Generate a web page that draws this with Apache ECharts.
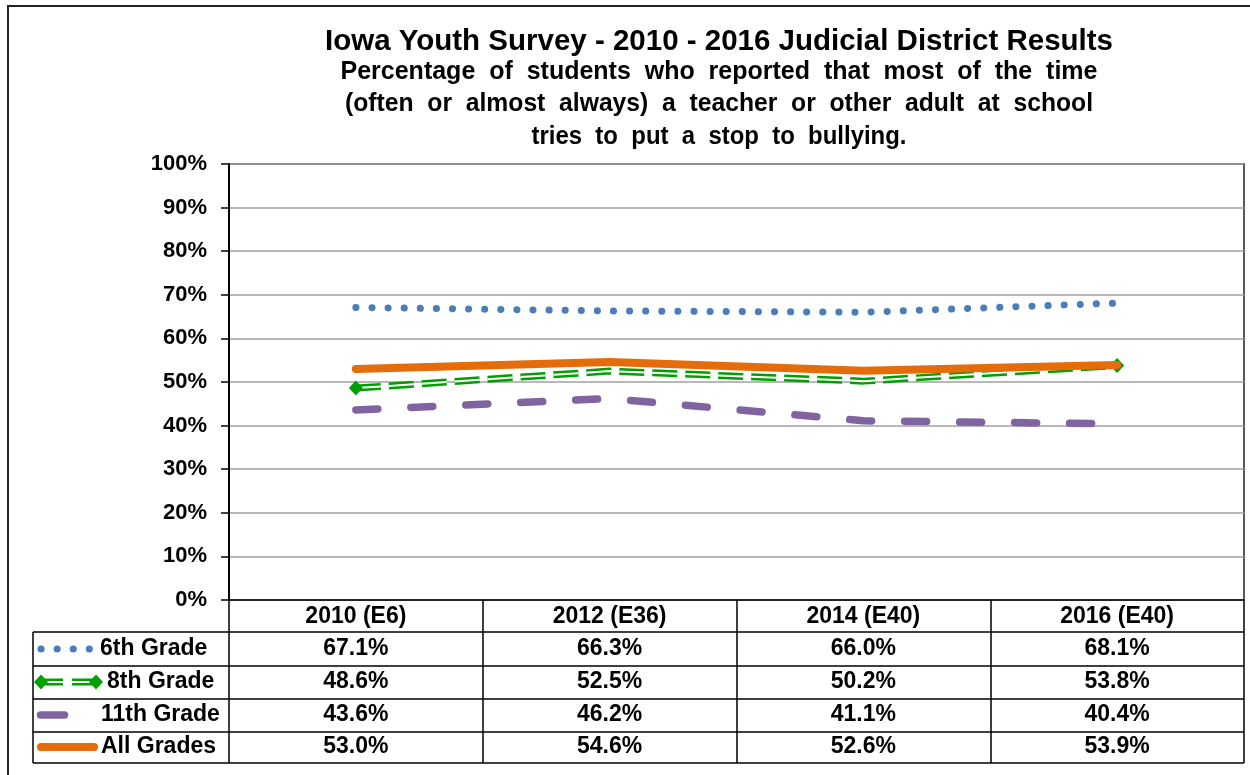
<!DOCTYPE html>
<html><head><meta charset="utf-8">
<script src="https://cdn.jsdelivr.net/npm/echarts@6/dist/echarts.min.js"></script>
<style>html,body{margin:0;padding:0;background:#fff}#c{width:1250px;height:775px}</style>
</head><body><div id="c"></div>
<script>
// ---- data ----
const categories = ['2010 (E6)', '2012 (E36)', '2014 (E40)', '2016 (E40)'];
const grade6 = [67.1, 66.3, 66.0, 68.1];
const grade8 = [48.6, 52.5, 50.2, 53.8];
const grade11 = [43.6, 46.2, 41.1, 40.4];
const allGrades = [53.0, 54.6, 52.6, 53.9];
const seriesNames = ['6th Grade', '8th Grade', '11th Grade', 'All Grades'];
const titleLines = [
  'Iowa Youth Survey - 2010 - 2016 Judicial District Results',
  'Percentage  of  students  who  reported  that  most  of  the  time',
  '(often  or  almost  always)  a  teacher  or  other  adult  at  school',
  'tries  to  put  a  stop  to  bullying.'
];

// ---- styling / layout ----
const FONT = '"Liberation Sans", Arial, sans-serif';
const BLUE = '#4A7EBB', GREEN = '#00A000', PURPLE = '#8064A2', ORANGE = '#E46C0A';
const last = categories.length - 1;
const dotted = [0.1, 16], dashed8 = [25, 8], dashed11 = [22, 33];

const chart = echarts.init(document.getElementById('c'), null, { renderer: 'canvas' });

const option = {
  animation: false,
  backgroundColor: '#fff',
  grid: { left: 229, top: 164, right: 6, bottom: 175, show: true, borderColor: '#222', borderWidth: 1.5 },
  xAxis: {
    type: 'category', data: categories, boundaryGap: true,
    axisLine: { lineStyle: { color: '#000', width: 1.5 } },
    axisTick: { show: true, interval: 0, length: 163, lineStyle: { color: '#000', width: 1.5 } },
    axisLabel: { interval: 0, margin: 5, color: '#000', fontWeight: 'bold', fontSize: 23, lineHeight: 23, fontFamily: FONT }
  },
  yAxis: {
    type: 'value', min: 0, max: 100, interval: 10,
    axisLine: { show: true, lineStyle: { color: '#000', width: 2 } },
    axisTick: { show: true, length: 8, lineStyle: { color: '#000', width: 1.5 } },
    axisLabel: { formatter: '{value}%', margin: 22, color: '#000', fontWeight: 'bold', fontSize: 22, fontFamily: FONT },
    splitLine: { lineStyle: { color: '#a0a0a0', width: 1.5 } }
  },
  series: [
    { name: seriesNames[0], type: 'line', data: grade6, symbol: 'none', z: 2,
      lineStyle: { color: BLUE, width: 7, type: dotted, cap: 'round' } },
    { name: seriesNames[1], type: 'line', data: grade8, symbol: 'none', z: 2,
      lineStyle: { color: GREEN, width: 7, type: dashed8 } },
    { name: seriesNames[1] + ' (inner)', type: 'line', data: grade8, z: 2,
      symbol: (v, p) => (p.dataIndex === 0 || p.dataIndex === last) ? 'diamond' : 'none',
      symbolSize: [14, 15], showAllSymbol: true, itemStyle: { color: GREEN },
      lineStyle: { color: '#fff', width: 2, type: dashed8 } },
    { name: seriesNames[2], type: 'line', data: grade11, symbol: 'none', z: 3,
      lineStyle: { color: PURPLE, width: 7.5, type: dashed11, cap: 'round' } },
    { name: seriesNames[3], type: 'line', data: allGrades, symbol: 'none', z: 4,
      lineStyle: { color: ORANGE, width: 8, cap: 'round', join: 'round' } }
  ]
};
chart.setOption(option);

// ---- table + title as graphic overlay ----
const ctx = document.createElement('canvas').getContext('2d');
function measure(text, font) { ctx.font = font; return ctx.measureText(text).width; }

const plotRight = 1244, tableLeft = 33;
const rowLines = [632, 666, 699, 732, 763];
const rowCenters = [649, 682, 715, 747];
const legendTextX = [100, 107, 101, 101];
const colX = categories.map((c, i) => chart.convertToPixel({ xAxisIndex: 0 }, i));
const rows = [grade6, grade8, grade11, allGrades];
const TFONT = 'bold 23px ' + FONT;

const g = [];
g.push({ type: 'rect', silent: true, shape: { x: 8, y: 6, width: 1300, height: 800 },
  style: { fill: 'none', stroke: '#222', lineWidth: 2 } });
rowLines.forEach(y => g.push({ type: 'line', silent: true, shape: { x1: tableLeft, y1: y, x2: plotRight, y2: y },
  style: { stroke: '#000', lineWidth: 1.5 } }));
g.push({ type: 'line', silent: true, shape: { x1: tableLeft, y1: rowLines[0], x2: tableLeft, y2: rowLines[rowLines.length - 1] },
  style: { stroke: '#000', lineWidth: 1.5 } });

rows.forEach((arr, r) => {
  arr.forEach((v, i) => g.push({ type: 'text', silent: true, x: colX[i], y: rowCenters[r],
    style: { text: v.toFixed(1) + '%', font: TFONT, fill: '#000', align: 'center', verticalAlign: 'middle' } }));
  g.push({ type: 'text', silent: true, x: legendTextX[r], y: rowCenters[r],
    style: { text: seriesNames[r], font: TFONT, fill: '#000', align: 'left', verticalAlign: 'middle' } });
});

// legend samples
let y = rowCenters[0];
g.push({ type: 'line', silent: true, shape: { x1: 41, y1: y, x2: 89.5, y2: y },
  style: { stroke: BLUE, lineWidth: 7, lineDash: dotted, lineCap: 'round' } });
y = rowCenters[1];
[[44, 63], [72, 93]].forEach(([a, b]) => {
  g.push({ type: 'line', silent: true, shape: { x1: a, y1: y, x2: b, y2: y }, style: { stroke: GREEN, lineWidth: 7 } });
  g.push({ type: 'line', silent: true, shape: { x1: a, y1: y, x2: b, y2: y }, style: { stroke: '#fff', lineWidth: 2 } });
});
[41, 96].forEach(x => g.push({ type: 'polygon', silent: true,
  shape: { points: [[x - 7, y], [x, y - 7.5], [x + 7, y], [x, y + 7.5]] }, style: { fill: GREEN } }));
y = rowCenters[2];
g.push({ type: 'line', silent: true, shape: { x1: 40.5, y1: y, x2: 64.5, y2: y },
  style: { stroke: PURPLE, lineWidth: 7.5, lineCap: 'round' } });
y = rowCenters[3];
g.push({ type: 'line', silent: true, shape: { x1: 41, y1: y, x2: 94, y2: y },
  style: { stroke: ORANGE, lineWidth: 8, lineCap: 'round' } });

// title (narrow bold, scaled horizontally)
const titleY = [42, 72, 104, 137];
const titleSize = [30, 26, 26, 26];
const titleWidth = [788, 757, 748, 375];
titleLines.forEach((t, i) => {
  const f = 'bold ' + titleSize[i] + 'px ' + FONT;
  const w = measure(t, f);
  g.push({ type: 'text', silent: true, x: 719, y: titleY[i], scaleX: titleWidth[i] / w,
    style: { text: t, font: f, fill: '#000', align: 'center', verticalAlign: 'middle' } });
});

chart.setOption({ graphic: g });
</script></body></html>
